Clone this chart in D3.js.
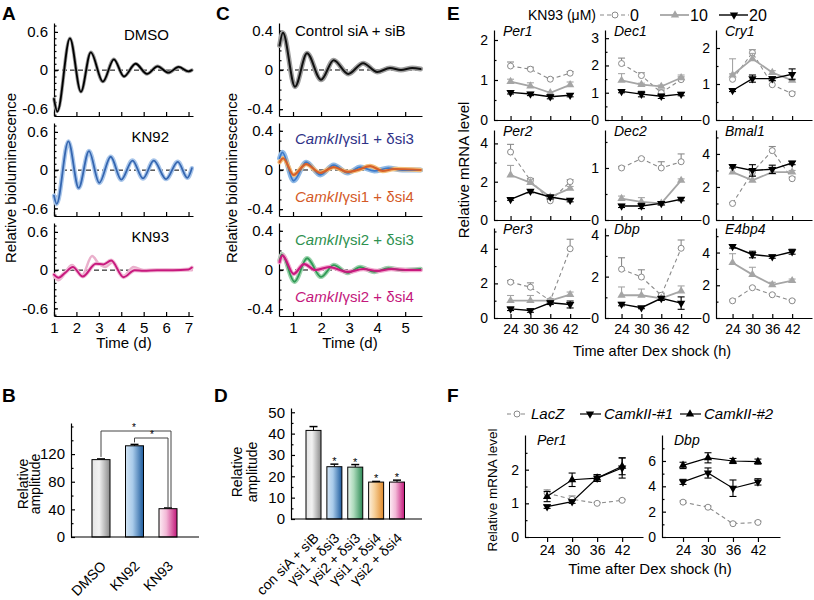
<!DOCTYPE html>
<html>
<head>
<meta charset="utf-8">
<script src="https://cdn.jsdelivr.net/npm/d3@7"></script>
<style>
body { margin: 0; background: #fff; }
svg { display: block; font-family: "Liberation Sans", Arial, sans-serif; }
.axis path, .axis line { stroke: #000; stroke-width: 1.2; }
.axis text { font-family: "Liberation Sans", Arial, sans-serif; font-size: 15px; fill: #000; }
.small text { font-size: 14px; }
</style>
</head>
<body>
<svg id="fig" width="814" height="600"></svg>
<script>
// ---------- Panel A: damped rhythms (day, value) at turning points ----------
const aDays = [1, 2, 3, 4, 5, 6, 7];
const dmsoT = [1.0, 1.15, 1.71, 2.2, 2.64, 3.18, 3.67, 4.12, 4.64, 5.15, 5.62, 6.1, 6.56, 7.0, 7.15];
const dmsoV = [-0.45, -0.65, 0.5, -0.34, 0.28, -0.18, 0.17, -0.1, 0.1, -0.06, 0.06, -0.04, 0.05, -0.02, 0.0];
const kn92T = [1.0, 1.12, 1.64, 2.1, 2.56, 3.02, 3.53, 4.0, 4.5, 4.97, 5.45, 6.0, 6.52, 6.95, 7.15];
const kn92V = [-0.4, -0.53, 0.45, -0.28, 0.3, -0.2, 0.21, -0.15, 0.15, -0.13, 0.15, -0.14, 0.13, -0.12, 0.03];
const kn93T = [1.0, 1.2, 1.5, 1.84, 2.28, 2.87, 3.2, 3.55, 4.1, 4.6, 5.0, 5.6, 6.3, 7.0, 7.15];
const kn93V = [-0.07, -0.12, -0.04, 0.05, -0.1, 0.1, 0.09, 0.15, -0.11, 0.0, -0.01, 0.0, 0.0, 0.01, 0.04];
const kn93bT = [1.0, 1.2, 1.8, 2.25, 2.7, 3.0, 3.3, 3.6, 4.1, 4.55, 5.0, 6.0, 7.15];
const kn93bV = [-0.1, -0.16, 0.08, -0.08, 0.22, 0.1, 0.05, 0.12, -0.09, 0.05, 0.0, 0.01, 0.0];

// ---------- Panel B ----------
const bCats = ["DMSO", "KN92", "KN93"];
const bVals = [112, 132, 41];
const bErr = [1, 2, 1];

// ---------- Panel C ----------
const cDays = [1, 2, 3, 4, 5];
const ctrlT = [0.52, 0.64, 1.07, 1.5, 2.0, 2.45, 2.97, 3.5, 4.0, 4.46, 4.85, 5.25, 5.55];
const ctrlV = [0.25, 0.38, -0.17, 0.17, -0.1, 0.1, -0.04, 0.07, -0.02, 0.02, 0.0, 0.02, 0.01];
const si13T = [0.52, 0.62, 1.02, 1.47, 1.97, 2.45, 2.95, 3.4, 3.9, 4.4, 4.9, 5.55];
const si13V = [0.12, 0.18, -0.11, 0.08, -0.05, 0.05, -0.03, 0.03, -0.01, 0.02, 0.0, 0.0];
const si14T = [0.52, 0.65, 1.02, 1.47, 1.97, 2.45, 2.95, 3.3, 3.75, 4.2, 4.6, 5.55];
const si14V = [0.08, 0.12, -0.05, 0.06, -0.03, 0.03, -0.02, 0.0, 0.04, -0.01, 0.01, 0.0];
const si23T = [0.52, 0.6, 1.05, 1.5, 2.0, 2.45, 2.95, 3.4, 3.9, 4.4, 4.9, 5.55];
const si23V = [0.1, 0.16, -0.12, 0.12, -0.07, 0.05, -0.03, 0.03, -0.02, 0.02, 0.0, 0.01];
const si24T = [0.52, 0.62, 1.02, 1.4, 1.8, 2.3, 2.95, 3.5, 4.0, 4.5, 5.0, 5.55];
const si24V = [0.08, 0.15, -0.04, 0.06, 0.0, 0.03, -0.02, 0.01, -0.01, 0.01, 0.0, 0.0];

// ---------- Panel D ----------
const dCats = ["con siA + siB", "γsi1 + δsi3", "γsi2 + δsi3", "γsi1 + δsi4", "γsi2 + δsi4"];
const dVals = [41.5, 24.5, 24.3, 17.3, 17.3];
const dErr = [1.8, 1.2, 1.2, 0.3, 0.9];

// ---------- Panel E (KN93 0 / 10 / 20 µM) ----------
const eTimes = [24, 30, 36, 42];
const eGenes = ["Per1", "Dec1", "Cry1", "Per2", "Dec2", "Bmal1", "Per3", "Dbp", "E4bp4"];
const eYMax = [2.25, 3.3, 2.5, 4.7, 1.73, 5.45, 5.2, 4.35, 5.5];
const eYTicks = [[0, 1, 2], [0, 1, 2, 3], [0, 1, 2], [0, 2, 4], [0, 1], [0, 2, 4], [0, 2, 4], [0, 2, 4], [0, 2, 4]];
const eYMinor = [[0.5, 1.5], [0.5, 1.5, 2.5], [0.5, 1.5], [1, 3], [0.5, 1.5], [1, 3, 5], [1, 3, 5], [1, 3], [1, 3, 5]];
const kn0 = [
  [1.35, 1.27, 1.02, 1.17], [2.07, 1.63, 1.0, 1.48], [1.13, 1.87, 0.98, 0.73],
  [3.55, 2.07, 1.0, 2.0], [1.0, 1.18, 1.0, 1.12], [1.0, 2.9, 4.2, 2.5],
  [2.07, 1.78, 1.0, 4.0], [2.36, 1.98, 1.1, 3.37], [1.05, 1.85, 1.42, 1.05]
];
const kn0Err = [
  [0.1, 0.05, 0.03, 0.04], [0.2, 0.1, 0.1, 0.1], [0.15, 0.08, 0.1, 0.05],
  [0.4, 0.1, 0.1, 0.1], [0.03, 0.02, 0.12, 0.15], [0.05, 0.2, 0.25, 0.1],
  [0.1, 0.25, 0.1, 0.55], [0.55, 0.35, 0.1, 0.4], [0.05, 0.05, 0.05, 0.05]
];
const kn10 = [
  [0.96, 0.85, 0.68, 0.88], [1.45, 1.3, 1.23, 1.55], [1.25, 1.7, 1.32, 1.1],
  [2.35, 1.95, 1.2, 1.65], [0.41, 0.35, 0.32, 0.76], [2.9, 2.4, 2.9, 2.9],
  [1.0, 1.0, 1.0, 1.35], [1.1, 1.1, 0.95, 1.3], [3.38, 2.65, 2.03, 2.28]
];
const kn10Err = [
  [0.06, 0.08, 0.03, 0.07], [0.25, 0.05, 0.05, 0.1], [0.45, 0.15, 0.05, 0.05],
  [0.5, 0.15, 0.1, 0.1], [0.05, 0.08, 0.03, 0.03], [0.4, 0.3, 0.3, 0.1],
  [0.3, 0.3, 0.1, 0.15], [0.4, 0.3, 0.1, 0.25], [0.55, 0.45, 0.15, 0.1]
];
const kn20 = [
  [0.69, 0.65, 0.58, 0.62], [1.05, 0.95, 0.87, 0.95], [0.82, 1.15, 1.15, 1.27],
  [1.08, 1.5, 1.2, 1.03], [0.27, 0.27, 0.32, 0.4], [3.25, 3.0, 3.07, 3.45],
  [0.53, 0.43, 0.88, 0.78], [0.67, 0.5, 0.95, 0.72], [4.37, 3.88, 3.75, 4.05]
];
const kn20Err = [
  [0.04, 0.04, 0.05, 0.04], [0.05, 0.1, 0.08, 0.06], [0.03, 0.1, 0.05, 0.15],
  [0.05, 0.08, 0.1, 0.08], [0.03, 0.05, 0.03, 0.03], [0.1, 0.35, 0.25, 0.1],
  [0.1, 0.1, 0.1, 0.2], [0.08, 0.05, 0.1, 0.3], [0.1, 0.2, 0.1, 0.15]
];

// ---------- Panel F ----------
const fTimes = [24, 30, 36, 42];
const fGenes = ["Per1", "Dbp"];
const fYMax = [3.03, 8.05];
const fYTicks = [[0, 1, 2], [0, 2, 4, 6]];
const fYMinor = [[0.5, 1.5, 2.5], [1, 3, 5, 7]];
const lacZ = [[1.3, 1.12, 1.0, 1.09], [2.75, 2.35, 1.05, 1.15]];
const lacZErr = [[0.1, 0.1, 0.03, 0.03], [0.1, 0.1, 0.1, 0.1]];
const camk1 = [[0.9, 1.05, 1.75, 2.05], [4.35, 5.05, 3.85, 4.35]];
const camk1Err = [[0.05, 0.05, 0.1, 0.3], [0.2, 0.4, 0.65, 0.25]];
const camk2 = [[1.2, 1.7, 1.75, 2.1], [5.65, 6.25, 6.0, 5.95]];
const camk2Err = [[0.15, 0.2, 0.1, 0.25], [0.25, 0.4, 0.2, 0.2]];

const svg = d3.select("#fig");
svg.append("rect").attr("width", 814).attr("height", 600).attr("fill", "#fff");
const defs = svg.append("defs");

function grad(id, c0, c1, c2) {
  const g = defs.append("linearGradient").attr("id", id)
    .attr("x1", "0%").attr("x2", "100%").attr("y1", "0%").attr("y2", "0%");
  g.append("stop").attr("offset", "0%").attr("stop-color", c0);
  g.append("stop").attr("offset", "40%").attr("stop-color", c1);
  g.append("stop").attr("offset", "100%").attr("stop-color", c2);
}
grad("gGrey", "#e4e4e4", "#f2f2f2", "#8a8a8a");
grad("gBlue", "#d2e4f4", "#a9cbea", "#1d5b9d");
grad("gPink", "#fdeef5", "#f3b9d7", "#c2177a");
grad("gGreen", "#e8f4ec", "#acdabb", "#2c8a55");
grad("gOrange", "#fcf0df", "#f6cf98", "#e08a2c");

function panelLabel(t, x, y) {
  svg.append("text").attr("x", x).attr("y", y).attr("font-size", 19)
    .attr("font-weight", "bold").text(t);
}

function numFmt(d) { return d === 0 ? "0" : String(d); }

function leftAxis(x0, y, major, minor, fmt, cls) {
  const g = svg.append("g").attr("class", "axis " + (cls || ""))
    .attr("transform", `translate(${x0},0)`)
    .call(d3.axisLeft(y).tickValues(major).tickSize(-4).tickSizeOuter(0)
      .tickPadding(6).tickFormat(fmt || numFmt));
  svg.append("g").attr("class", "axis").attr("transform", `translate(${x0},0)`)
    .call(d3.axisLeft(y).tickValues(minor).tickSize(-2.5).tickSizeOuter(0).tickFormat(""))
    .select(".domain").remove();
  return g;
}

function bottomAxis(y0, x, ticks, show, cls) {
  return svg.append("g").attr("class", "axis " + (cls || ""))
    .attr("transform", `translate(0,${y0})`)
    .call(d3.axisBottom(x).tickValues(ticks).tickSize(-4).tickSizeOuter(0)
      .tickPadding(6).tickFormat(show ? d3.format("d") : ""));
}

function zip(t, v) { return t.map((d, i) => [d, v[i]]); }

function wave(x, y, t, v, color, width) {
  svg.append("path").datum(zip(t, v))
    .attr("d", d3.line().x(d => x(d[0])).y(d => y(d[1])).curve(d3.curveMonotoneX))
    .attr("fill", "none").attr("stroke", color).attr("stroke-width", width)
    .attr("stroke-linejoin", "round").attr("stroke-linecap", "round");
}

function zeroLine(x, y) {
  svg.append("line").attr("x1", x.range()[0]).attr("x2", x.range()[1])
    .attr("y1", y(0)).attr("y2", y(0))
    .attr("stroke", "#000").attr("stroke-width", 1).attr("stroke-dasharray", "5,3");
}

function rotLabel(t, x, y, size) {
  svg.append("text").attr("transform", `translate(${x},${y}) rotate(-90)`)
    .attr("text-anchor", "middle").attr("font-size", size).text(t);
}

// ================= Panel A =================
panelLabel("A", 2, 20);
const aX = d3.scaleLinear().domain([1, 7.2]).range([54, 193]);
const aSubs = [
  { name: "DMSO", lines: [[dmsoT, dmsoV, "#9a9a9a", 3.5], [dmsoT, dmsoV, "#000", 1.8]] },
  { name: "KN92", lines: [[kn92T, kn92V, "#a9c6ea", 4.5], [kn92T, kn92V, "#3566b0", 1.8]] },
  { name: "KN93", lines: [[kn93bT, kn93bV, "#eab0cc", 2.5], [kn93T, kn93V, "#f0bcd6", 4], [kn93T, kn93V, "#c8197e", 2]] }
];
aSubs.forEach((s, i) => {
  const top = 23 + 100 * i, bot = top + 93;
  const y = d3.scaleLinear().domain([-0.72, 0.74]).range([bot, top]);
  leftAxis(54, y, [-0.6, 0, 0.6], d3.range(-0.7, 0.71, 0.1));
  bottomAxis(bot, aX, aDays, i === 2);
  zeroLine(aX, y);
  s.lines.forEach(l => wave(aX, y, l[0], l[1], l[2], l[3]));
  svg.append("text").attr("x", 169).attr("y", [40, 142, 242][i])
    .attr("text-anchor", "end").attr("font-size", 15).text(s.name);
});
rotLabel("Relative bioluminescence", 16, 178, 15);
svg.append("text").attr("x", 124).attr("y", 348).attr("text-anchor", "middle")
  .attr("font-size", 15).text("Time (d)");

// ================= Panel C =================
panelLabel("C", 216, 20);
const cX = d3.scaleLinear().domain([0.5, 5.6]).range([279, 422]);
const cSubs = [
  [[ctrlT, ctrlV, "#a0a0a0", 5], [ctrlT, ctrlV, "#111", 2]],
  [[si13T, si13V, "#8fb9e6", 5], [si14T, si14V, "#f3bf7a", 4.5], [si13T, si13V, "#3b78c8", 1.8], [si14T, si14V, "#d6602a", 2.2]],
  [[si23T, si23V, "#9bd3ac", 4.5], [si24T, si24V, "#f2a9cf", 4.5], [si23T, si23V, "#2f9a55", 1.8], [si24T, si24V, "#c8197e", 2.2]]
];
cSubs.forEach((lines, i) => {
  const top = 23 + 100 * i, bot = top + 93;
  const y = d3.scaleLinear().domain([-0.47, 0.48]).range([bot, top]);
  leftAxis(279, y, [-0.4, 0, 0.4], d3.range(-0.4, 0.41, 0.1));
  bottomAxis(bot, cX, cDays, i === 2);
  zeroLine(cX, y);
  lines.forEach(l => wave(cX, y, l[0], l[1], l[2], l[3]));
});
svg.append("text").attr("x", 295).attr("y", 36).attr("font-size", 15).text("Control siA + siB");
function camkLabel(y, rest, color) {
  const t = svg.append("text").attr("x", 295).attr("y", y).attr("font-size", 15).attr("fill", color);
  t.append("tspan").attr("font-style", "italic").text("CamkII");
  t.append("tspan").text("γ" + rest);
}
camkLabel(144, "si1 + δsi3", "#2f3287");
camkLabel(202, "si1 + δsi4", "#d45a27");
camkLabel(245, "si2 + δsi3", "#2e9150");
camkLabel(302, "si2 + δsi4", "#c4177c");
rotLabel("Relative bioluminescence", 237, 178, 15);
svg.append("text").attr("x", 350).attr("y", 348).attr("text-anchor", "middle")
  .attr("font-size", 15).text("Time (d)");

// ================= Panel B =================
panelLabel("B", 2, 402);
const bY = d3.scaleLinear().domain([0, 165]).range([537, 423]);
const bX = d3.scalePoint().domain(bCats).range([101, 168]);
const bFills = ["url(#gGrey)", "url(#gBlue)", "url(#gPink)"];
bCats.forEach((c, i) => {
  const cx = bX(c);
  svg.append("line").attr("x1", cx).attr("x2", cx).attr("y1", bY(bVals[i])).attr("y2", bY(bVals[i] + bErr[i]))
    .attr("stroke", "#000");
  svg.append("line").attr("x1", cx - 4).attr("x2", cx + 4).attr("y1", bY(bVals[i] + bErr[i])).attr("y2", bY(bVals[i] + bErr[i]))
    .attr("stroke", "#000").attr("stroke-width", 1.5);
  svg.append("rect").attr("x", cx - 9).attr("width", 18).attr("y", bY(bVals[i]))
    .attr("height", bY(0) - bY(bVals[i])).attr("fill", bFills[i]).attr("stroke", "#000").attr("stroke-width", 1);
  svg.append("text").attr("transform", `translate(${cx + 6},${567}) rotate(-45)`)
    .attr("text-anchor", "end").attr("font-size", 14).text(c);
});
leftAxis(71, bY, [0, 40, 80, 120], [20, 60, 100, 140, 160]);
svg.append("line").attr("x1", 71).attr("x2", 199).attr("y1", 537).attr("y2", 537)
  .attr("stroke", "#000").attr("stroke-width", 1.2);
// significance brackets
function bracket(xa, ya, xb, yb, yTop, starX) {
  svg.append("path").attr("d", `M${xa},${ya}V${yTop}H${xb}V${yb}`)
    .attr("fill", "none").attr("stroke", "#444").attr("stroke-width", 1);
  svg.append("text").attr("x", starX).attr("y", yTop - 0.5).attr("text-anchor", "middle")
    .attr("font-size", 10).attr("fill", "#000").text("*");
}
bracket(bX("DMSO"), bY(bVals[0] + bErr[0]) - 2, 171, bY(bVals[2] + bErr[2]), 431, 134);
bracket(bX("KN92"), bY(bVals[1] + bErr[1]) - 2, 168, bY(bVals[2] + bErr[2]), 438, 152);
svg.append("text").attr("transform", "translate(28,484) rotate(-90)").attr("text-anchor", "middle")
  .attr("font-size", 14).text("Relative");
svg.append("text").attr("transform", "translate(40,484) rotate(-90)").attr("text-anchor", "middle")
  .attr("font-size", 14).text("amplitude");

// ================= Panel D =================
panelLabel("D", 214, 402);
const dY = d3.scaleLinear().domain([0, 52]).range([519, 408]);
const dX = d3.scalePoint().domain(dCats).range([313.5, 397]);
const dFills = ["url(#gGrey)", "url(#gBlue)", "url(#gGreen)", "url(#gOrange)", "url(#gPink)"];
dCats.forEach((c, i) => {
  const cx = dX(c);
  const yt = dY(dVals[i] + dErr[i]);
  svg.append("line").attr("x1", cx).attr("x2", cx).attr("y1", dY(dVals[i])).attr("y2", yt).attr("stroke", "#000");
  svg.append("line").attr("x1", cx - 4).attr("x2", cx + 4).attr("y1", yt).attr("y2", yt)
    .attr("stroke", "#000").attr("stroke-width", 1.5);
  svg.append("rect").attr("x", cx - 7.5).attr("width", 15).attr("y", dY(dVals[i]))
    .attr("height", dY(0) - dY(dVals[i])).attr("fill", dFills[i]).attr("stroke", "#000").attr("stroke-width", 1);
  if (i > 0) {
    svg.append("text").attr("x", cx).attr("y", yt + 1).attr("text-anchor", "middle")
      .attr("font-size", 11).text("*");
  }
  svg.append("text").attr("transform", `translate(${cx + 6},${539}) rotate(-45)`)
    .attr("text-anchor", "end").attr("font-size", 14).text(c);
});
leftAxis(291, dY, [0, 10, 20, 30, 40, 50], [5, 15, 25, 35, 45]);
svg.append("line").attr("x1", 291).attr("x2", 422).attr("y1", 519).attr("y2", 519)
  .attr("stroke", "#000").attr("stroke-width", 1.2);
svg.append("text").attr("transform", "translate(242,472) rotate(-90)").attr("text-anchor", "middle")
  .attr("font-size", 14).text("Relative");
svg.append("text").attr("transform", "translate(257,472) rotate(-90)").attr("text-anchor", "middle")
  .attr("font-size", 14).text("amplitude");

// ================= shared line-plot helpers (E, F) =================
function marker(type, x, y, color) {
  if (type === "circle") {
    svg.append("circle").attr("cx", x).attr("cy", y).attr("r", 3)
      .attr("fill", "#fff").attr("stroke", color).attr("stroke-width", 1);
  } else {
    svg.append("path").attr("d", d3.symbol(d3.symbolTriangle, 30)())
      .attr("transform", `translate(${x},${y}) rotate(${type === "down" ? 180 : 0})`)
      .attr("fill", color);
  }
}

function series(x, y, times, vals, errs, st, both) {
  const pts = zip(times, vals);
  svg.append("path").datum(pts)
    .attr("d", d3.line().x(d => x(d[0])).y(d => y(d[1])))
    .attr("fill", "none").attr("stroke", st.color).attr("stroke-width", st.width)
    .attr("stroke-dasharray", st.dash);
  pts.forEach((p, i) => {
    const px = x(p[0]);
    const hi = y(p[1] + errs[i]), lo = both ? y(Math.max(0, p[1] - errs[i])) : y(p[1]);
    svg.append("line").attr("x1", px).attr("x2", px).attr("y1", lo).attr("y2", hi)
      .attr("stroke", st.color).attr("stroke-width", 1.1);
    svg.append("line").attr("x1", px - 3.5).attr("x2", px + 3.5).attr("y1", hi).attr("y2", hi)
      .attr("stroke", st.color).attr("stroke-width", 1.1);
    if (both) {
      svg.append("line").attr("x1", px - 3.5).attr("x2", px + 3.5).attr("y1", lo).attr("y2", lo)
        .attr("stroke", st.color).attr("stroke-width", 1.1);
    }
    marker(st.sym, px, y(p[1]), st.mark);
  });
}

// ================= Panel E =================
panelLabel("E", 447, 20);
const eCols = [494, 605, 716];
const eRows = [[30, 120], [130, 220], [228, 318]];
const eStyles = [
  { color: "#8a8a8a", mark: "#8a8a8a", width: 1.1, dash: "4,3", sym: "circle" },
  { color: "#a5a5a5", mark: "#a5a5a5", width: 1.8, dash: null, sym: "up" },
  { color: "#000", mark: "#000", width: 1.4, dash: null, sym: "down" }
];
eGenes.forEach((gname, k) => {
  const col = k % 3, row = Math.floor(k / 3);
  const x0 = eCols[col], top = eRows[row][0], bot = eRows[row][1];
  const x = d3.scaleLinear().domain([19, 48]).range([x0, x0 + 96]);
  const y = d3.scaleLinear().domain([0, eYMax[k]]).range([bot, top]);
  leftAxis(x0, y, eYTicks[k], eYMinor[k], null, "small");
  bottomAxis(bot, x, eTimes, row === 2, "small");
  series(x, y, eTimes, kn0[k], kn0Err[k], eStyles[0], false);
  series(x, y, eTimes, kn10[k], kn10Err[k], eStyles[1], false);
  series(x, y, eTimes, kn20[k], kn20Err[k], eStyles[2], true);
  svg.append("text").attr("x", x0 + 9).attr("y", top + 6).attr("font-size", 14)
    .attr("font-style", "italic").text(gname);
});
// legend
svg.append("text").attr("x", 596).attr("y", 20).attr("text-anchor", "end")
  .attr("font-size", 14).text("KN93 (μM)");
[[600, "0"], [660, "10"], [719, "20"]].forEach((d, i) => {
  const st = eStyles[i];
  svg.append("line").attr("x1", d[0]).attr("x2", d[0] + 29).attr("y1", 15).attr("y2", 15)
    .attr("stroke", st.color).attr("stroke-width", st.width).attr("stroke-dasharray", st.dash);
  marker(st.sym, d[0] + 15, 15, st.mark);
  svg.append("text").attr("x", d[0] + 30).attr("y", 20.5).attr("font-size", 16).text(d[1]);
});
rotLabel("Relative mRNA level", 469, 170, 15);
svg.append("text").attr("x", 652).attr("y", 356).attr("text-anchor", "middle")
  .attr("font-size", 14.5).text("Time after Dex shock (h)");

// ================= Panel F =================
panelLabel("F", 447, 402);
const fCols = [[525, [18.7, 47]], [662, [18.95, 47.3]]];
const fStyles = [
  { color: "#8a8a8a", mark: "#8a8a8a", width: 1.1, dash: "4,3", sym: "circle" },
  { color: "#000", mark: "#000", width: 1.2, dash: null, sym: "down" },
  { color: "#000", mark: "#000", width: 1.2, dash: null, sym: "up" }
];
fGenes.forEach((gname, k) => {
  const x0 = fCols[k][0];
  const x = d3.scaleLinear().domain(fCols[k][1]).range([x0, x0 + 118]);
  const y = d3.scaleLinear().domain([0, fYMax[k]]).range([537, 435]);
  leftAxis(x0, y, fYTicks[k], fYMinor[k], null, "small");
  svg.append("g").attr("class", "axis small").attr("transform", "translate(0,537)")
    .call(d3.axisBottom(x).tickValues(fTimes).tickSize(5).tickSizeOuter(0).tickPadding(3)
      .tickFormat(d3.format("d")));
  series(x, y, fTimes, lacZ[k], lacZErr[k], fStyles[0], false);
  series(x, y, fTimes, camk1[k], camk1Err[k], fStyles[1], true);
  series(x, y, fTimes, camk2[k], camk2Err[k], fStyles[2], true);
  svg.append("text").attr("x", x0 + 12).attr("y", 445).attr("font-size", 14)
    .attr("font-style", "italic").text(gname);
});
[[507, "LacZ"], [580, "CamkII-#1"], [680, "CamkII-#2"]].forEach((d, i) => {
  const st = fStyles[i];
  svg.append("line").attr("x1", d[0]).attr("x2", d[0] + 21).attr("y1", 414).attr("y2", 414)
    .attr("stroke", st.color).attr("stroke-width", st.width).attr("stroke-dasharray", st.dash);
  marker(st.sym, d[0] + 10, 414, st.mark);
  svg.append("text").attr("x", d[0] + 24).attr("y", 419).attr("font-size", 15)
    .attr("font-style", "italic").text(d[1]);
});
rotLabel("Relative mRNA level", 497, 490, 13.5);
svg.append("text").attr("x", 650).attr("y", 574).attr("text-anchor", "middle")
  .attr("font-size", 15).text("Time after Dex shock (h)");
</script>
</body>
</html>
